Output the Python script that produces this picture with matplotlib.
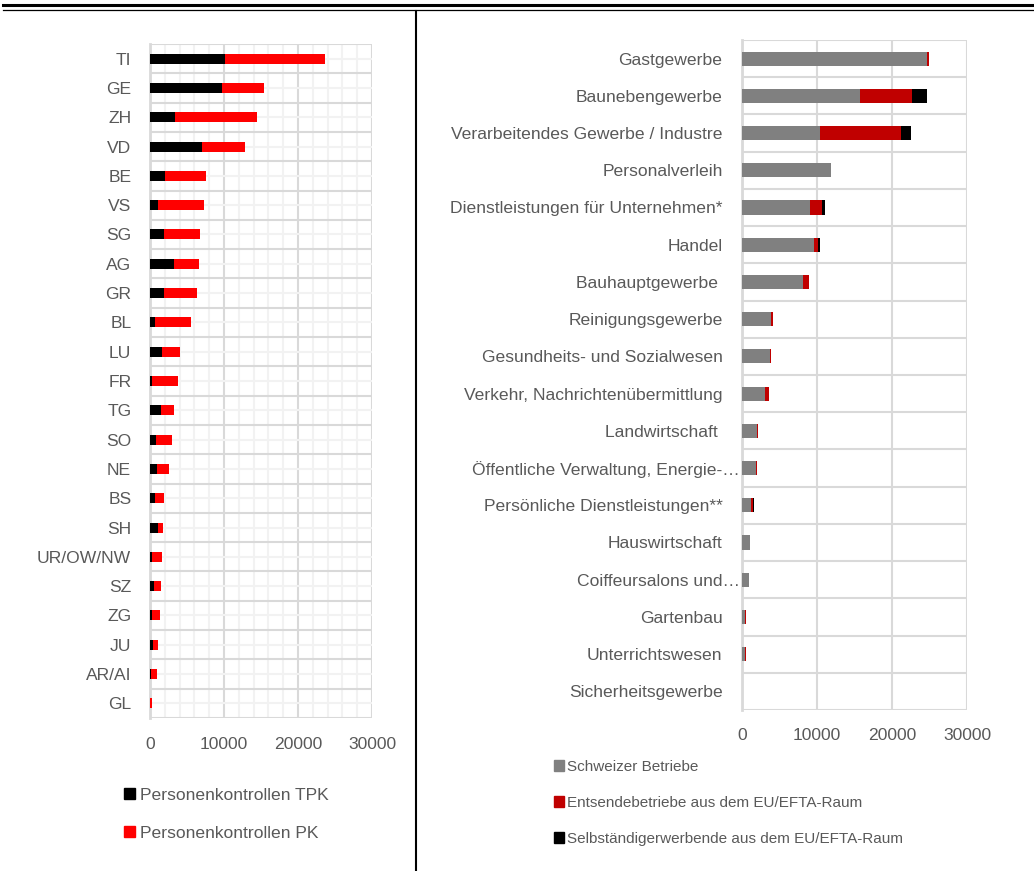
import numpy as np
import matplotlib
matplotlib.use("Agg")
from matplotlib import pyplot as plt
from matplotlib.lines import Line2D
from matplotlib.patches import Patch

plt.rcParams['font.family'] = ['Liberation Sans', 'DejaVu Sans']

# Kontrollen nach Kanton
kantone = ['TI', 'GE', 'ZH', 'VD', 'BE', 'VS', 'SG', 'AG', 'GR', 'BL', 'LU', 'FR',
           'TG', 'SO', 'NE', 'BS', 'SH', 'UR/OW/NW', 'SZ', 'ZG', 'JU', 'AR/AI', 'GL']
tpk = [10200, 9700, 3400, 7050, 2050, 1100, 1950, 3250, 1850, 650, 1600, 300,
       1450, 800, 950, 650, 1050, 250, 500, 250, 400, 200, 40]
pk = [13500, 5700, 11000, 5750, 5550, 6250, 4750, 3350, 4500, 4850, 2500, 3450,
      1850, 2150, 1650, 1300, 700, 1350, 1050, 1150, 650, 700, 200]

# Kontrollen nach Branche
branchen = ['Gastgewerbe', 'Baunebengewerbe', 'Verarbeitendes Gewerbe / Industre',
            'Personalverleih', 'Dienstleistungen für Unternehmen*', 'Handel',
            'Bauhauptgewerbe ', 'Reinigungsgewerbe', 'Gesundheits- und Sozialwesen',
            'Verkehr, Nachrichtenübermittlung', 'Landwirtschaft ',
            'Öffentliche Verwaltung, Energie-…', 'Persönliche Dienstleistungen**',
            'Hauswirtschaft', 'Coiffeursalons und…', 'Gartenbau', 'Unterrichtswesen',
            'Sicherheitsgewerbe']
schweizer = [24700, 15700, 10400, 11800, 9000, 9600, 8100, 3850, 3750, 3100, 2000,
             1900, 1200, 1050, 900, 350, 450, 0]
entsende = [200, 6950, 10800, 0, 1700, 500, 850, 250, 50, 450, 80, 80, 250, 0, 20,
            200, 50, 0]
selbst = [0, 2000, 1300, 0, 400, 250, 0, 0, 0, 0, 0, 0, 100, 0, 0, 0, 0, 0]

txt = '#595959'
grid_dark = '#d9d9d9'
grid_light = '#f2f2f2'
fs = 12.6

fig = plt.figure(figsize=(10.34, 8.71), dpi=100)

# --- linkes Diagramm: Kantone ---
ax1 = fig.add_axes([150/1034, 1-718/871, 222/1034, 674/871])
y1 = np.arange(len(kantone))
tpk_a = np.array(tpk)
pk_a = np.array(pk)
ax1.barh(y1, tpk_a, height=0.34, color='#000000', zorder=3)
ax1.barh(y1, pk_a, left=tpk_a, height=0.34, color='#ff0000', zorder=3)
ax1.set_xlim(0, 30000)
ax1.set_ylim(len(kantone) - 0.5, -0.5)
ax1.set_xticks([0, 10000, 20000, 30000])
ax1.set_xticks(np.arange(0, 30001, 2000), minor=True)
ax1.set_yticks(y1)
ax1.set_yticklabels(kantone)
ax1.set_yticks(np.arange(-0.5, len(kantone)), minor=True)
ax1.grid(axis='x', which='minor', color=grid_light, lw=1.5, zorder=0)
ax1.grid(axis='y', which='major', color=grid_light, lw=1.5, zorder=0)
ax1.grid(axis='x', which='major', color=grid_dark, lw=1.5, zorder=1)
ax1.grid(axis='y', which='minor', color=grid_dark, lw=1.5, zorder=1)
ax1.tick_params(axis='both', which='both', length=0, labelsize=fs, labelcolor=txt)
ax1.tick_params(axis='y', pad=13.5)
ax1.tick_params(axis='x', pad=14)
for s in ['top', 'right', 'bottom']:
    ax1.spines[s].set_visible(False)
ax1.spines['left'].set_color(grid_dark)
ax1.spines['left'].set_linewidth(2)

leg1 = fig.legend(handles=[Patch(color='#000000', label='Personenkontrollen TPK'),
                           Patch(color='#ff0000', label='Personenkontrollen PK')],
                  loc='upper left', bbox_to_anchor=(115/1034, 1-779/871),
                  frameon=False, fontsize=fs, handlelength=0.65, handleheight=0.65,
                  handletextpad=0.3, labelspacing=1.3, borderpad=0)
for t in leg1.get_texts():
    t.set_color(txt)

# --- rechtes Diagramm: Branchen ---
ax2 = fig.add_axes([742/1034, 1-710/871, 225/1034, 670/871])
y2 = np.arange(len(branchen))
a = np.array(schweizer)
b = np.array(entsende)
c = np.array(selbst)
ax2.barh(y2, a, height=0.38, color='#808080', zorder=3)
ax2.barh(y2, b, left=a, height=0.38, color='#c00000', zorder=3)
ax2.barh(y2, c, left=a + b, height=0.38, color='#000000', zorder=3)
ax2.set_xlim(0, 30000)
ax2.set_ylim(len(branchen) - 0.5, -0.5)
ax2.set_xticks([0, 10000, 20000, 30000])
ax2.set_yticks(y2)
ax2.set_yticklabels(branchen)
ax2.set_yticks(np.arange(-0.5, len(branchen)), minor=True)
ax2.grid(axis='x', which='major', color=grid_dark, lw=1.5, zorder=1)
ax2.grid(axis='y', which='minor', color=grid_dark, lw=1.5, zorder=1)
ax2.tick_params(axis='both', which='both', length=0, labelsize=fs, labelcolor=txt)
ax2.tick_params(axis='y', pad=14)
ax2.tick_params(axis='x', pad=13)
for i, lbl in enumerate(branchen):
    if lbl.endswith('…'):
        ax2.yaxis.get_major_ticks()[i].set_pad(1.5)
for s in ['top', 'right', 'bottom']:
    ax2.spines[s].set_visible(False)
ax2.spines['left'].set_color(grid_dark)
ax2.spines['left'].set_linewidth(2)

leg2 = fig.legend(handles=[Patch(color='#808080', label='Schweizer Betriebe'),
                           Patch(color='#c00000', label='Entsendebetriebe aus dem EU/EFTA-Raum'),
                           Patch(color='#000000', label='Selbständigerwerbende aus dem EU/EFTA-Raum')],
                  loc='upper left', bbox_to_anchor=(546/1034, 1-752/871),
                  frameon=False, fontsize=11, handlelength=0.7, handleheight=0.7,
                  handletextpad=0.2, labelspacing=1.45, borderpad=0)
for t in leg2.get_texts():
    t.set_color(txt)

# Rahmenlinien oben und Trennlinie
fig.add_artist(Line2D([3/1034, 1], [1-5.5/871, 1-5.5/871], color='black', lw=2.2))
fig.add_artist(Line2D([3/1034, 1], [1-9.8/871, 1-9.8/871], color='black', lw=0.9))
fig.add_artist(Line2D([416/1034, 416/1034], [1-11/871, 0], color='black', lw=1.5))

fig.savefig('out.png', dpi=100)
